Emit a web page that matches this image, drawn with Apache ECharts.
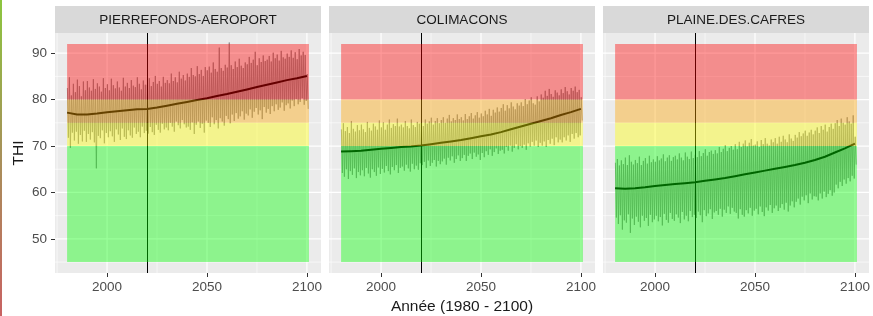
<!DOCTYPE html>
<html lang="fr">
<head>
<meta charset="UTF-8">
<script src="https://cdn.jsdelivr.net/npm/echarts@6.0.0/dist/echarts.min.js"></script>
<title>THI</title>
<style>html, body { margin: 0; padding: 0; background: #ffffff; }</style>
</head>
<body>
<div id="main" style="width: 873px; height: 316px;"></div>
<script type="text/javascript">
// stations (one panel each)
var stations = ['PIERREFONDS-AEROPORT', 'COLIMACONS', 'PLAINE.DES.CAFRES'];

// one seasonal high and one seasonal low per year, 1980 -> 2100
var pfPeak = [
  82.5, 84.8, 80.9, 83.4, 81.6, 84.3, 82.9, 80.7, 83.9, 82.0,
  84.0, 82.6, 81.9, 84.4, 82.3, 83.5, 82.8, 81.7, 84.6, 82.5,
  83.3, 82.0, 84.5, 83.1, 82.4, 83.9, 82.6, 81.9, 84.7, 82.8,
  83.6, 82.5, 84.2, 83.0, 82.7, 84.8, 83.4, 82.2, 84.1, 83.2,
  83.2, 84.6, 82.9, 83.8, 85.1, 83.4, 84.0, 82.8, 84.9, 83.6,
  84.2, 83.5, 85.6, 84.0, 84.8, 83.7, 86.0, 84.5, 85.3, 84.1,
  85.6, 84.9, 86.8, 85.3, 85.0, 87.2, 85.5, 86.4, 85.1, 87.0,
  86.3, 87.1, 85.8, 88.0, 86.6, 86.0, 91.2, 86.8, 86.2, 87.5,
  86.9, 92.3, 87.4, 86.6, 88.2, 87.0, 88.8, 87.3, 86.8, 88.0,
  87.6, 89.2, 87.9, 88.6, 90.3, 87.4, 88.9, 88.1, 89.5, 88.3,
  88.6, 89.4, 88.2, 90.1, 88.9, 89.7, 88.4, 90.5, 89.1, 88.8,
  89.9, 89.2, 90.6, 89.0, 90.2, 88.7, 90.9, 89.5, 90.3, 89.6,
  85.5
];
var pfLow = [
  71.8, 69.6, 72.9, 71.2, 73.1, 70.5, 72.4, 71.0, 73.3, 70.9,
  72.6, 71.4, 73.0, 70.8, 65.2, 72.2, 71.7, 73.4, 70.6, 72.8,
  71.9, 73.2, 72.1, 70.9, 73.6, 72.5, 71.3, 73.8, 72.0, 71.5,
  73.4, 72.3, 71.8, 74.0, 72.6, 73.1, 71.9, 74.2, 72.8, 73.3,
  72.7, 74.1, 73.0, 72.4, 74.6, 73.5, 72.9, 74.8, 73.6, 74.0,
  73.4, 75.0, 74.2, 73.1, 75.3, 74.5, 73.8, 75.6, 74.7, 74.0,
  74.2, 73.5, 75.1, 72.6, 74.6, 75.3, 73.9, 74.8, 72.9, 75.5,
  75.0, 74.1, 76.2, 74.7, 75.6, 73.8, 76.0, 75.3, 74.4, 76.5,
  75.8, 74.9, 76.8, 75.4, 77.1, 75.9, 76.4, 77.5, 75.7, 77.0,
  76.6, 77.9, 76.1, 77.4, 78.2, 76.8, 77.7, 75.8, 78.4, 77.2,
  78.0, 76.9, 78.6, 77.5, 79.0, 77.8, 78.3, 79.4, 77.6, 78.8,
  79.2, 78.1, 79.8, 78.6, 80.1, 79.0, 79.5, 80.3, 78.9, 79.7,
  78.0
];
var coPeak = [
  73.6, 74.9, 73.2, 74.1, 72.8, 75.4, 73.7, 73.1, 74.5, 73.4,
  74.6, 73.6, 73.0, 75.2, 73.9, 73.3, 74.8, 74.2, 73.5, 75.5,
  74.0, 75.1, 73.5, 74.6, 75.7, 73.9, 74.7, 74.3, 75.9, 74.2,
  74.6, 74.0, 75.4, 74.3, 73.8, 75.7, 74.5, 74.1, 75.2, 74.8,
  75.0, 74.3, 75.7, 74.8, 75.3, 76.1, 74.6, 75.4, 76.0, 74.9,
  75.6, 76.2, 75.0, 75.9, 76.7, 75.3, 76.0, 75.6, 76.8, 75.8,
  76.2, 75.5, 76.9, 75.8, 76.4, 77.1, 75.9, 76.6, 77.3, 76.1,
  77.0, 76.4, 77.6, 76.8, 78.0, 76.5, 77.8, 77.2, 78.3, 77.4,
  78.2, 79.0, 77.6, 78.8, 78.1, 79.4, 78.5, 77.9, 79.2, 78.7,
  79.4, 78.6, 80.1, 79.0, 79.8, 80.5, 79.2, 78.9, 80.7, 79.6,
  81.1, 80.4, 81.9, 80.8, 82.3, 81.2, 80.6, 82.0, 81.5, 80.9,
  82.2, 81.4, 82.7, 81.8, 81.1, 82.5, 81.9, 82.8, 81.6, 82.1,
  80.5
];
var coLow = [
  64.2, 63.4, 65.0, 62.9, 64.6, 63.8, 65.2, 63.1, 64.4, 63.7,
  64.8, 63.5, 65.3, 64.1, 63.2, 65.0, 64.4, 63.6, 65.4, 64.0,
  65.1, 64.3, 65.7, 64.6, 63.9, 65.5, 64.8, 65.9, 64.2, 65.3,
  65.6, 64.7, 66.0, 65.2, 64.5, 66.2, 65.0, 65.8, 64.9, 66.3,
  65.9, 66.6, 65.3, 66.9, 65.7, 66.4, 67.0, 65.6, 66.8, 66.1,
  66.7, 67.3, 66.0, 67.5, 66.9, 67.8, 66.4, 67.2, 68.0, 66.8,
  67.4, 68.1, 66.8, 67.9, 68.4, 67.2, 68.6, 67.7, 68.2, 67.0,
  68.5, 67.6, 68.9, 68.1, 69.3, 67.9, 68.7, 69.5, 68.3, 69.0,
  69.2, 68.4, 69.8, 69.0, 70.1, 68.8, 69.6, 70.4, 69.3, 70.0,
  69.6, 70.3, 69.2, 70.6, 69.9, 70.9, 70.1, 71.2, 69.8, 70.7,
  70.1, 71.0, 69.8, 71.3, 70.5, 71.6, 70.2, 71.9, 70.8, 71.4,
  70.8, 71.9, 71.2, 72.3, 70.9, 72.6, 71.6, 72.8, 71.9, 72.3,
  75.5
];
var pdcPeak = [
  66.4, 67.2, 65.8, 66.9, 66.1, 67.5, 65.9, 68.0, 66.6, 66.0,
  67.0, 66.3, 67.7, 65.9, 66.8, 67.4, 66.2, 67.9, 66.5, 67.1,
  66.6, 67.8, 66.9, 67.3, 68.2, 66.7, 67.5, 68.0, 66.8, 67.6,
  67.9, 67.1, 68.4, 67.5, 66.9, 68.6, 67.7, 67.2, 68.8, 67.4,
  68.1, 67.6, 68.9, 67.8, 68.5, 69.3, 67.9, 68.7, 69.0, 68.3,
  69.1, 68.4, 69.8, 68.7, 69.4, 70.2, 68.9, 69.6, 70.0, 69.2,
  70.4, 69.3, 70.9, 69.8, 70.5, 71.2, 69.9, 70.7, 71.5, 70.1,
  70.3, 71.0, 69.8, 71.3, 70.4, 71.7, 70.5, 70.1, 71.4, 70.8,
  71.7, 70.5, 72.0, 70.9, 72.2, 71.4, 70.8, 72.5, 71.6, 71.1,
  72.4, 71.8, 73.0, 72.1, 72.7, 73.3, 72.2, 72.9, 73.5, 72.5,
  73.3, 74.0, 72.8, 74.3, 73.5, 74.6, 73.1, 74.1, 74.8, 73.7,
  74.9, 75.6, 74.3, 75.9, 75.0, 74.6, 76.2, 75.3, 74.8, 76.6,
  72.0
];
var pdcLow = [
  54.6, 53.2, 55.1, 52.0, 54.0, 53.5, 55.3, 51.3, 54.4, 53.0,
  54.8, 53.7, 52.5, 55.0, 53.9, 54.5, 52.8, 55.2, 53.6, 54.2,
  55.0, 53.8, 54.7, 52.9, 55.4, 54.1, 53.5, 55.6, 54.3, 53.9,
  55.3, 54.6, 53.4, 55.8, 54.2, 55.0, 53.8, 56.0, 54.7, 55.2,
  54.5, 55.9, 55.1, 53.6, 56.2, 54.9, 55.5, 56.4, 54.3, 55.7,
  56.0, 55.2, 56.5, 54.8, 56.3, 55.6, 57.0, 55.4, 56.7, 55.9,
  55.6, 54.4, 56.4, 55.2, 54.8, 56.2, 55.5, 56.7, 55.0, 56.1,
  56.5, 55.3, 57.0, 55.8, 54.9, 56.8, 56.1, 57.3, 55.6, 56.6,
  57.2, 56.0, 56.7, 57.5, 56.3, 57.8, 55.9, 57.2, 58.1, 56.8,
  58.0, 58.7, 57.4, 59.1, 58.3, 59.4, 57.7, 59.8, 58.5, 59.2,
  59.1, 58.3, 59.8, 58.7, 60.2, 59.0, 59.7, 60.5, 59.3, 60.0,
  61.7, 60.9, 62.3, 61.4, 62.8, 61.9, 63.1, 62.4, 63.6, 63.0,
  66.0
];

// smoothed trend, every 5 years
var trendYears = [1980, 1985, 1990, 1995, 2000, 2005, 2010, 2015, 2020, 2025, 2030, 2035, 2040,
                  2045, 2050, 2055, 2060, 2065, 2070, 2075, 2080, 2085, 2090, 2095, 2100];
var pfTrend  = [77.2, 76.8, 76.8, 77.0, 77.3, 77.5, 77.7, 77.9, 78.0, 78.3, 78.7, 79.1, 79.5,
                79.9, 80.3, 80.8, 81.2, 81.7, 82.2, 82.7, 83.2, 83.7, 84.2, 84.6, 85.1];
var coTrend  = [68.8, 68.9, 69.0, 69.2, 69.4, 69.6, 69.8, 69.9, 70.1, 70.4, 70.7, 71.0, 71.3,
                71.7, 72.1, 72.5, 73.0, 73.6, 74.2, 74.8, 75.4, 76.0, 76.7, 77.3, 78.0];
var pdcTrend = [60.9, 60.8, 60.9, 61.1, 61.4, 61.6, 61.8, 62.0, 62.2, 62.5, 62.8, 63.1, 63.5,
                63.9, 64.3, 64.7, 65.1, 65.5, 65.9, 66.4, 67.0, 67.7, 68.6, 69.5, 70.5];

// THI comfort bands
var bandYears = [1980, 2101];
var bandLow = [45, 70, 75, 80];
var bandHigh = [70, 75, 80, 92];
var bandColors = ['rgba(0,255,0,0.4)', 'rgba(255,255,0,0.4)', 'rgba(255,165,0,0.4)', 'rgba(255,0,0,0.4)'];

var refYear = 2020;
var xMajor = [2000, 2050, 2100], xMinor = [1975, 2025, 2075];
var yMajor = [50, 60, 70, 80, 90], yMinor = [45, 55, 65, 75, 85];
var X_MIN = 1973.95, X_MAX = 2107.05, Y_MIN = 42.65, Y_MAX = 94.35;

var FONT = '"Liberation Sans", Arial, sans-serif';
var panelLeft = [55, 329, 603], panelWidth = 266, panelTop = 33, panelHeight = 240;

var peaks = [pfPeak, coPeak, pdcPeak];
var lows = [pfLow, coLow, pdcLow];
var trends = [pfTrend, coTrend, pdcTrend];

var years = [];
for (var y = 1980; y <= 2100; y++) years.push(y);

function seasonalData(hi, lo) {
    var out = [];
    for (var k = 0; k < years.length; k++) {
        out.push([years[k] + 0.15, hi[k]]);
        out.push([years[k] + 0.65, lo[k]]);
    }
    return out;
}

// white grid lines: [0 = vertical / 1 = horizontal, value, major?]
var gridLines = [];
xMinor.forEach(function (v) { gridLines.push([0, v, 0]); });
yMinor.forEach(function (v) { gridLines.push([1, v, 0]); });
xMajor.forEach(function (v) { gridLines.push([0, v, 1]); });
yMajor.forEach(function (v) { gridLines.push([1, v, 1]); });

function renderGrid(params, api) {
    var g = gridLines[params.dataIndex];
    var p1, p2;
    if (g[0] === 0) {
        p1 = api.coord([g[1], Y_MIN]); p2 = api.coord([g[1], Y_MAX]);
    } else {
        p1 = api.coord([X_MIN, g[1]]); p2 = api.coord([X_MAX, g[1]]);
    }
    return {
        type: 'line',
        shape: { x1: p1[0], y1: p1[1], x2: p2[0], y2: p2[1] },
        style: { stroke: '#ffffff', lineWidth: g[2] ? 1.2 : 0.6 }
    };
}

function renderBand(params, api) {
    var k = params.dataIndex;
    var p1 = api.coord([bandYears[0], bandHigh[k]]);
    var p2 = api.coord([bandYears[1], bandLow[k]]);
    return {
        type: 'rect',
        shape: { x: p1[0], y: p1[1], width: p2[0] - p1[0], height: p2[1] - p1[1] },
        style: { fill: bandColors[k] }
    };
}

function plainNumber(v) { return String(v); }

var grids = [], xAxes = [], yAxes = [], series = [], graphics = [];

graphics.push({
    type: 'rect', left: 0, top: 0, silent: true,
    shape: { width: 2, height: 316 },
    style: { fill: new echarts.graphic.LinearGradient(0, 0, 0, 1, [
        { offset: 0, color: '#8CC63F' }, { offset: 0.5, color: '#A8905A' }, { offset: 1, color: '#C86262' }
    ]) }
});

for (var i = 0; i < 3; i++) {
    grids.push({
        left: panelLeft[i], top: panelTop, width: panelWidth, height: panelHeight,
        outerBoundsMode: 'none', containLabel: false,
        show: true, backgroundColor: '#EBEBEB', borderWidth: 0
    });
    xAxes.push({
        type: 'value', gridIndex: i, min: X_MIN, max: X_MAX,
        axisLine: { show: false }, splitLine: { show: false },
        axisTick: { show: true, customValues: xMajor, length: 4, lineStyle: { color: '#333333', width: 1 } },
        axisLabel: { customValues: xMajor, formatter: plainNumber, color: '#4D4D4D', fontSize: 13.5, fontFamily: FONT, margin: 7 },
        name: i === 1 ? 'Année (1980 - 2100)' : '',
        nameLocation: 'middle', nameGap: 25,
        nameTextStyle: { color: '#1A1A1A', fontSize: 15.5, fontFamily: FONT }
    });
    yAxes.push({
        type: 'value', gridIndex: i, min: Y_MIN, max: Y_MAX,
        axisLine: { show: false }, splitLine: { show: false },
        axisTick: { show: i === 0, customValues: yMajor, length: 4, lineStyle: { color: '#333333', width: 1 } },
        axisLabel: { show: i === 0, customValues: yMajor, formatter: plainNumber, color: '#4D4D4D', fontSize: 13.5, fontFamily: FONT, margin: 8 },
        name: i === 0 ? 'THI' : '',
        nameLocation: 'middle', nameGap: 28, nameRotate: 90,
        nameTextStyle: { color: '#1A1A1A', fontSize: 15.5, fontFamily: FONT }
    });

    series.push({
        type: 'custom', xAxisIndex: i, yAxisIndex: i, z: 1, silent: true,
        renderItem: renderGrid, data: gridLines
    });
    series.push({
        type: 'line', name: stations[i], xAxisIndex: i, yAxisIndex: i, z: 2,
        showSymbol: false, silent: true,
        lineStyle: { color: '#8C8C8C', width: 0.9 },
        data: seasonalData(peaks[i], lows[i])
    });
    series.push({
        type: 'line', xAxisIndex: i, yAxisIndex: i, z: 3,
        showSymbol: false, silent: true,
        lineStyle: { color: '#000000', width: 2 },
        data: trendYears.map(function (yr, k) { return [yr, trends[this][k]]; }, i),
        markLine: {
            silent: true, symbol: 'none', label: { show: false },
            lineStyle: { color: '#000000', width: 1, type: 'solid' },
            data: [{ xAxis: refYear }]
        }
    });
    series.push({
        type: 'custom', xAxisIndex: i, yAxisIndex: i, z: 5, silent: true,
        renderItem: renderBand, data: bandLow
    });

    // facet strip
    graphics.push({
        type: 'rect', left: panelLeft[i], top: 6, silent: true,
        shape: { width: panelWidth, height: 27 },
        style: { fill: '#D9D9D9' }
    });
    graphics.push({
        type: 'text', silent: true,
        x: panelLeft[i] + panelWidth / 2, y: 20.5,
        style: { text: stations[i], fill: '#1A1A1A', font: '13.5px ' + FONT, align: 'center', verticalAlign: 'middle' }
    });
}

var chart = echarts.init(document.getElementById('main'));
chart.setOption({
    animation: false,
    backgroundColor: '#ffffff',
    grid: grids,
    xAxis: xAxes,
    yAxis: yAxes,
    graphic: graphics,
    series: series
});
</script>
</body>
</html>
